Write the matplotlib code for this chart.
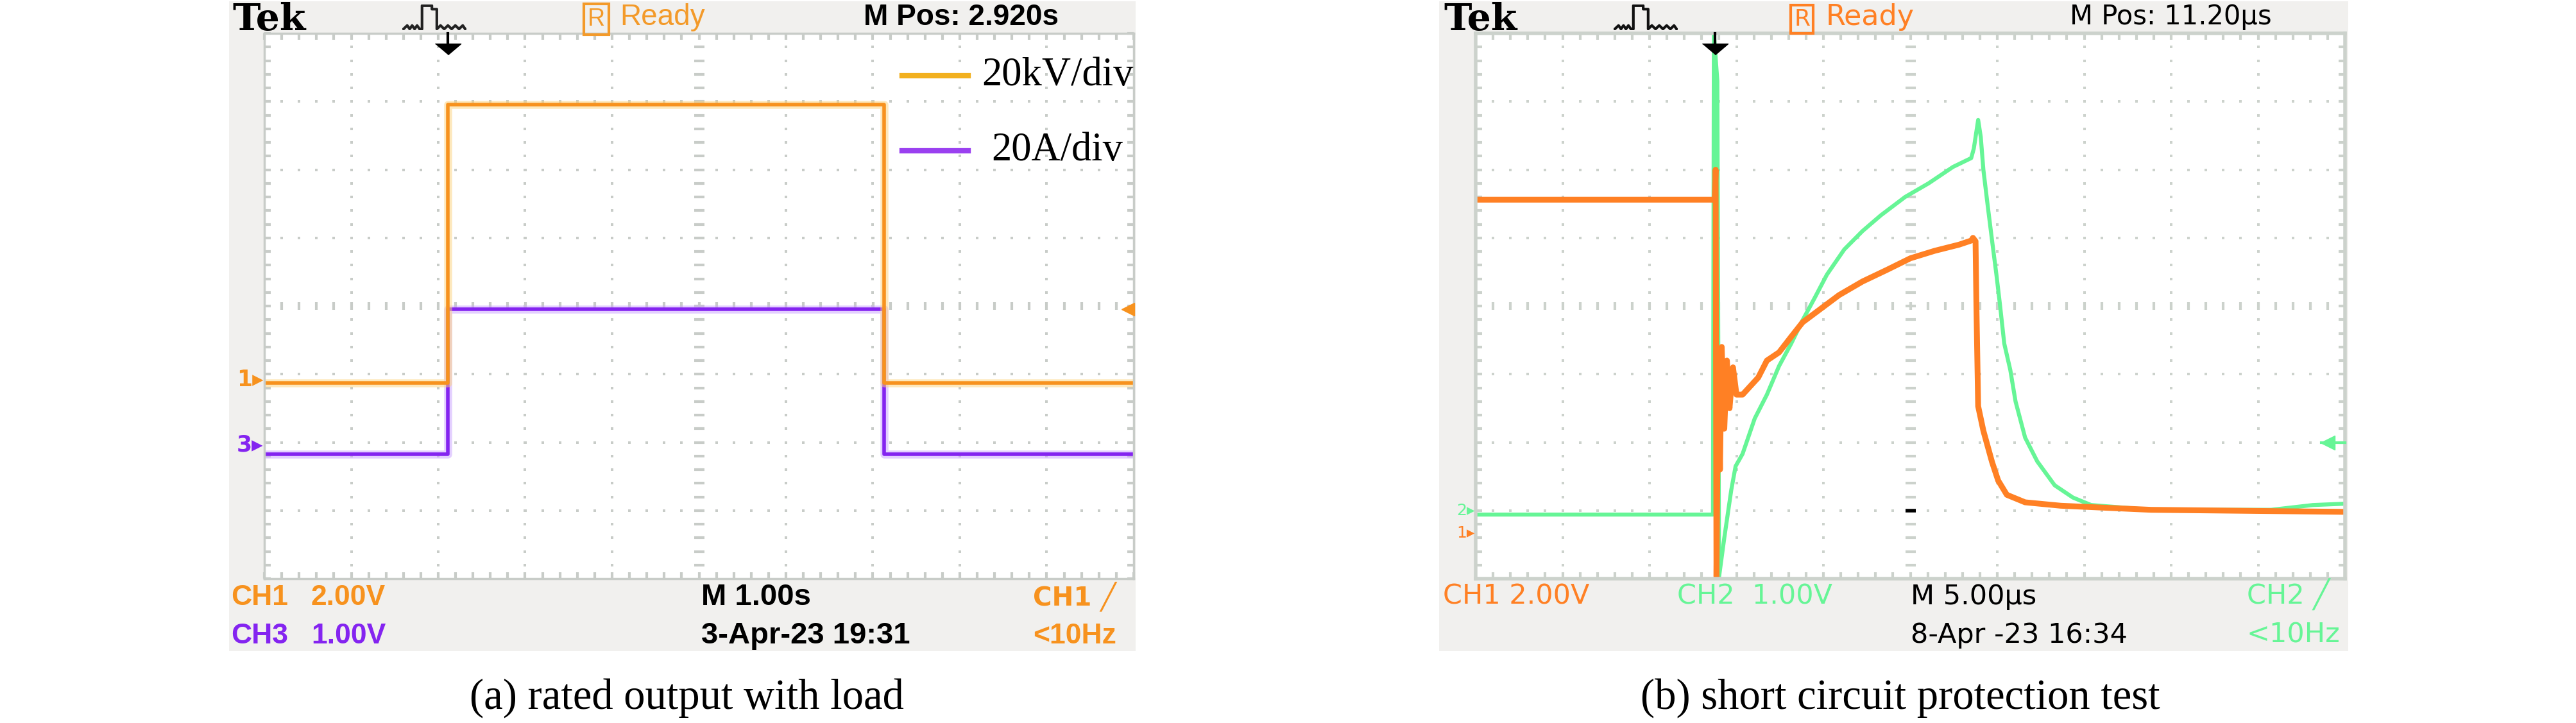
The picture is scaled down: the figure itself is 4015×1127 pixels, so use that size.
import numpy as np
import matplotlib
matplotlib.use("Agg")
import matplotlib.pyplot as plt
from matplotlib.patches import Rectangle
from matplotlib.lines import Line2D

# scope screen units: x 0..10 div, y -4..4 div
# (a) rated output with load
t_a = [0, 2.11, 2.11, 7.13, 7.13, 10]
ch1_a = [-1.13, -1.13, 2.96, 2.96, -1.13, -1.13]
ch3_a = [-2.17, -2.17, -0.05, -0.05, -2.17, -2.17]
trig_a = 2.11
level_a = -0.05
gnd_a = [-1.08, -2.04]

# (b) short circuit protection test
t_b1 = [0, 2.75, 2.76, 2.77, 2.79, 2.81, 2.83, 2.86, 2.89, 2.92, 2.96, 3.00, 3.07, 3.25,
        3.35, 3.49, 3.63, 3.76, 3.97, 4.18, 4.45, 4.73, 5.00, 5.28, 5.56, 5.70, 5.72,
        5.75, 5.76, 5.78, 5.84, 5.94, 6.01, 6.11, 6.32, 6.73, 7.77, 10.0]
ch1_b = [1.56, 1.56, 2.0, -3.97, -0.9, -2.4, -0.6, -1.8, -0.8, -1.5, -0.9, -1.3, -1.3, -1.05,
         -0.80, -0.68, -0.45, -0.24, -0.04, 0.16, 0.36, 0.53, 0.70, 0.81, 0.90, 0.96, 1.0,
         0.95, 0.0, -1.47, -1.83, -2.29, -2.56, -2.77, -2.88, -2.93, -2.99, -3.02]
t_b2 = [0, 2.73, 2.74, 2.78, 2.80, 2.86, 2.94, 2.99, 3.07, 3.21, 3.35, 3.49, 3.63, 3.76,
        3.90, 4.04, 4.24, 4.45, 4.66, 4.94, 5.21, 5.49, 5.70, 5.73, 5.78, 5.81, 5.84, 5.89,
        5.94, 5.99, 6.03, 6.08, 6.15, 6.21, 6.32, 6.46, 6.66, 6.87, 7.08, 7.77, 9.15, 9.63, 10.0]
ch2_b = [-3.06, -3.06, 4.0, 3.3, -3.97, -3.4, -2.7, -2.35, -2.17, -1.65, -1.30, -0.88, -0.55,
         -0.21, 0.12, 0.46, 0.83, 1.10, 1.33, 1.60, 1.80, 2.04, 2.17, 2.31, 2.73, 2.48, 2.0,
         1.47, 0.96, 0.46, 0.03, -0.55, -0.94, -1.40, -1.93, -2.28, -2.63, -2.81, -2.92,
         -2.99, -2.99, -2.92, -2.90]
trig_b = 2.75
level_b = -2.0
gnd_b = [-3.33, -3.0]

legend_labels = ["20kV/div", "20A/div"]
captions = ["(a) rated output with load", "(b) short circuit protection test"]

# trigger icon in the header
icon_x = [0.00, 0.06, 0.10, 0.14, 0.18, 0.22, 0.26, 0.30, 0.30, 0.46, 0.46, 0.54, 0.54, 0.60,
          0.66, 0.72, 0.78, 0.84, 0.90, 0.96, 1.00]
icon_y = [0.0, 0.15, 0.0, 0.15, 0.0, 0.15, 0.0, 0.0, 1.0, 1.0, 0.85, 0.85, 0.0, 0.15, 0.0,
          0.15, 0.0, 0.15, 0.0, 0.15, 0.0]

ORANGE_A = "#f7921e"
PURPLE = "#8424f0"
ORANGE_B = "#ff8024"
GREEN = "#66f596"

W, H = 4016, 1127
fig = plt.figure(figsize=(W / 100, H / 100), dpi=100)
fig.patch.set_facecolor("white")


def fx(x):
    return x / W


def fy(y):
    return 1 - y / H


def ftext(x, y, s, **kw):
    kw.setdefault("va", "baseline")
    return fig.text(fx(x), fy(y), s, **kw)


def screen(bg0, bg1, gx0, gridc, border_lw):
    fig.patches.append(Rectangle((fx(bg0), fy(1015)), (bg1 - bg0) / W, 1013 / H,
                                 transform=fig.transFigure, fc="#f1f0ee", ec="none", zorder=-5))
    ax = fig.add_axes([fx(gx0), fy(902), 1355 / W, 850 / H])
    ax.set_facecolor("white")
    ax.set_xlim(0, 10)
    ax.set_ylim(-4, 4)
    ax.set_xticks(np.arange(0, 10.01, 0.2))
    ax.set_yticks(np.arange(-4, 4.01, 0.2))
    ax.tick_params(direction="in", length=7, width=3, color=gridc, top=True, right=True,
                   labelbottom=False, labelleft=False)
    for s in ax.spines.values():
        s.set_color(gridc)
        s.set_linewidth(border_lw)
    xs = np.arange(0.2, 9.9, 0.2)
    ys = np.arange(-3.8, 3.9, 0.2)
    for k in range(1, 10):
        if k == 5:
            ax.plot(np.full(len(ys), k), ys, ls="none", marker="_", ms=11, mew=3, color=gridc, zorder=1)
        else:
            ax.plot(np.full(len(ys), k), ys, ls="none", marker="s", ms=3, mew=0, color=gridc, zorder=1)
    for k in range(-3, 4):
        if k == 0:
            ax.plot(xs, np.zeros(len(xs)), ls="none", marker="|", ms=9, mew=3, color=gridc, zorder=1)
        else:
            ax.plot(xs, np.full(len(xs), k), ls="none", marker="s", ms=3, mew=0, color=gridc, zorder=1)
    return ax


def trigger_arrow(ax, t):
    ax.plot([t, t], [4.0, 3.85], color="k", lw=3, clip_on=False, zorder=5)
    ax.plot([t], [3.85], marker=[(-1, 0), (1, 0), (0, -0.85)], ms=29, color="k",
            clip_on=False, zorder=5)


def icon(x0, col):
    iax = fig.add_axes([fx(x0), fy(47), 100 / W, 40 / H])
    iax.plot(icon_x, icon_y, color=col, lw=3)
    iax.set_xlim(-0.02, 1.02)
    iax.set_ylim(-0.05, 1.05)
    iax.axis("off")


def ready(x0, col, family, size):
    ftext(x0 + 5, 40, "R", color=col, family=family, fontsize=size - 6,
          bbox=dict(boxstyle="square,pad=0.15", fc="none", ec=col, lw=3))
    ftext(x0 + 55, 39, "Ready", color=col, family=family, fontsize=size)


# ---------------- panel (a) ----------------
ax1 = screen(357, 1770, 412, "#c8ccc8", 2.5)
ax1.plot(t_a, ch3_a, color="#c9a0ff", lw=9, alpha=0.5, solid_capstyle="butt")
ax1.plot(t_a, ch3_a, color=PURPLE, lw=4, solid_capstyle="butt")
ax1.plot(t_a, ch1_a, color="#fdd27a", lw=9, alpha=0.5, solid_capstyle="butt")
ax1.plot(t_a, ch1_a, color=ORANGE_A, lw=4, solid_capstyle="butt")
trigger_arrow(ax1, trig_a)
ax1.plot([9.93], [level_a], marker="<", ms=15, color=ORANGE_A, clip_on=False, zorder=5)
ax1.text(-0.01, gnd_a[0], "1▸", color=ORANGE_A, ha="right", va="center", fontsize=25,
         fontweight="bold", clip_on=False)
ax1.text(-0.01, gnd_a[1], "3▸", color=PURPLE, ha="right", va="center", fontsize=25,
         fontweight="bold", clip_on=False)

# legend of panel (a)
for i, (lab, col) in enumerate(zip(legend_labels, ["#f2b01e", "#9a40f0"])):
    yy = 118 + 117 * i
    fig.add_artist(Line2D([fx(1406), fx(1509)], [fy(yy), fy(yy)], color=col, lw=6))
    ftext(1648, yy + 15, lab, ha="center", family="Liberation Serif", fontsize=45)

SANS_A = "Liberation Sans"
ftext(362, 47, "Tek", family="DejaVu Serif", fontweight="bold", fontsize=42)
icon(627, "#222222")
ready(911, "#f39a2a", SANS_A, 33)
ftext(1346, 39, "M Pos: 2.920s", family=SANS_A, fontweight="bold", fontsize=33)

ftext(360, 943, "CH1", color=ORANGE_A, family=SANS_A, fontweight="bold", fontsize=32)
ftext(485, 943, "2.00V", color=ORANGE_A, family=SANS_A, fontweight="bold", fontsize=32)
ftext(360, 1003, "CH3", color=PURPLE, family=SANS_A, fontweight="bold", fontsize=32)
ftext(485, 1003, "1.00V", color=PURPLE, family=SANS_A, fontweight="bold", fontsize=32)
ftext(1093, 943, "M 1.00s", family=SANS_A, fontweight="bold", fontsize=34)
ftext(1093, 1003, "3-Apr-23 19:31", family=SANS_A, fontweight="bold", fontsize=34)
ftext(1610, 943, "CH1 ╱", color=ORANGE_A, family=["DejaVu Sans"], fontweight="bold", fontsize=29)
ftext(1610, 1003, "<10Hz", color=ORANGE_A, family=SANS_A, fontweight="bold", fontsize=32)

ftext(1070, 1105, captions[0], ha="center", family="Liberation Serif", fontsize=48)

# ---------------- panel (b) ----------------
ax2 = screen(2243, 3660, 2300, "#ccd2cc", 4)
ax2.plot(t_b2, ch2_b, color=GREEN, lw=4.5)
ax2.plot(t_b1, ch1_b, color=ORANGE_B, lw=6.5)
trigger_arrow(ax2, trig_b)
ax2.plot([9.73, 10.0], [level_b, level_b], color=GREEN, lw=3, clip_on=False, zorder=5)
ax2.plot([9.80], [level_b], marker="<", ms=16, color=GREEN, clip_on=False, zorder=5)
ax2.plot([5.0], [-3.0], marker="_", ms=11, mew=4, color="k", zorder=5)
ax2.text(-0.01, gnd_b[0], "1▸", color=ORANGE_B, ha="right", va="center", fontsize=18,
         clip_on=False)
ax2.text(-0.01, gnd_b[1], "2▸", color=GREEN, ha="right", va="center", fontsize=18,
         clip_on=False)

SANS_B = "DejaVu Sans"
ftext(2250, 47, "Tek", family="DejaVu Serif", fontweight="bold", fontsize=42)
icon(2515, "#111111")
ready(2791, ORANGE_B, SANS_B, 32)
ftext(3226, 38, "M Pos: 11.20µs", family=SANS_B, fontsize=30)

ftext(2249, 942, "CH1 2.00V", color=ORANGE_B, family=SANS_B, fontsize=31)
ftext(2614, 942, "CH2  1.00V", color=GREEN, family=SANS_B, fontsize=31)
ftext(2978, 942, "M 5.00µs", family=SANS_B, fontsize=31)
ftext(2978, 1002, "8-Apr -23 16:34", family=SANS_B, fontsize=31)
ftext(3502, 942, "CH2 ╱", color=GREEN, family=SANS_B, fontsize=31)
ftext(3502, 1002, "<10Hz", color=GREEN, family=SANS_B, fontsize=31)

ftext(2962, 1105, captions[1], ha="center", family="Liberation Serif", fontsize=48)

fig.savefig("out.png", dpi=100)
